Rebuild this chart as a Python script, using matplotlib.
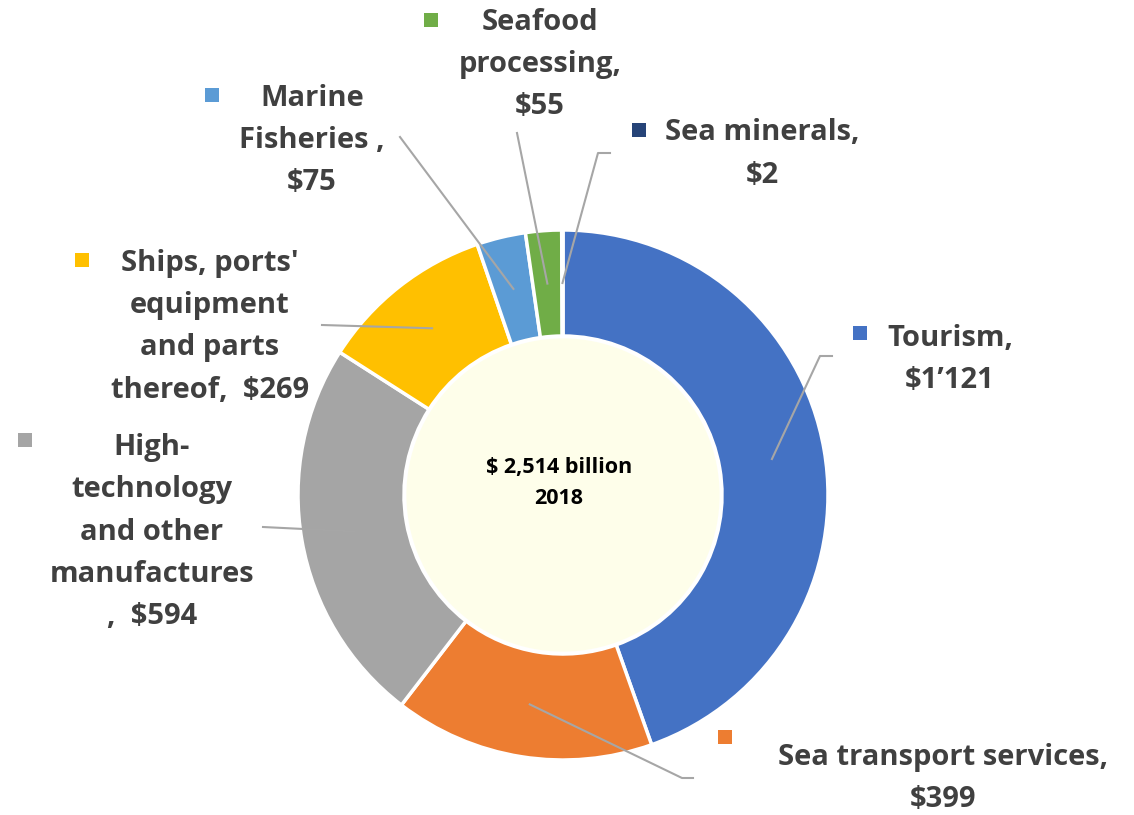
import matplotlib
matplotlib.use('Agg')

import matplotlib.pyplot as plt
import numpy as np
from matplotlib.patches import Circle

# data (billion USD, 2018)
sectors = ['Tourism', 'Sea transport services', 'High-technology and other manufactures',
           "Ships, ports' equipment and parts thereof", 'Marine Fisheries', 'Seafood processing',
           'Sea minerals']
values = [1121, 399, 594, 269, 75, 55, 2]
colors = ['#4472C4', '#ED7D31', '#A5A5A5', '#FFC000', '#5B9BD5', '#70AD47', '#264478']
label_lines = [
    ['Tourism,', '$1\u2019121'],
    ['Sea transport services,', '$399'],
    ['High-', 'technology', 'and other', 'manufactures', ',  $594'],
    ["Ships, ports'", 'equipment', 'and parts', 'thereof,  $269'],
    ['Marine', 'Fisheries ,', '$75'],
    ['Seafood', 'processing,', '$55'],
    ['Sea minerals,', '$2'],
]
center_text = ['$ 2,514 billion', '2018']

W, H = 1134, 815
fig = plt.figure(figsize=(W / 100, H / 100), dpi=100)
ax = fig.add_axes([0, 0, 1, 1])
ax.axis('off')


def Y(y):
    # image pixel row -> data y
    return H - y


cx, cy = 563, Y(495)
R, r_in = 265, 159

wedges, _ = ax.pie(values, colors=colors, startangle=90, counterclock=False,
                   radius=R, center=(cx, cy),
                   wedgeprops=dict(width=R - r_in, edgecolor='white', linewidth=2.5))
ax.set_xlim(0, W)
ax.set_ylim(0, H)
ax.set_aspect('equal')

ax.add_patch(Circle((cx, cy), r_in - 1, facecolor='#FEFEEA', edgecolor='white', lw=2, zorder=3))
for k, line in enumerate(center_text):
    ax.text(559, Y(468 + 30 * k), line, ha='center', va='center', fontsize=15.5,
            fontweight='bold', family='Open Sans', color='black', zorder=4)

# label layout: (text center x, first line y, marker x, marker y, elbow points)
layout = [
    (950, 338, 860, 333, [(820, 356), (832, 356)]),
    (943, 757, 725, 737, [(682, 778), (693, 778)]),
    (152, 447, 25, 440, [(263, 527)]),
    (210, 263, 82, 260, [(322, 325)]),
    (312, 98, 212, 95, [(400, 137)]),
    (540, 22, 431, 20, [(517, 133)]),
    (762, 133, 639, 130, [(598, 153), (610, 153)]),
]

total = sum(values)
cum = np.cumsum([0] + values)
line_gap = 42.5
for i, (tx, ty, mx, my, elbow) in enumerate(layout):
    for k, line in enumerate(label_lines[i]):
        ax.text(tx, Y(ty + k * line_gap), line, ha='center', va='center', fontsize=21,
                fontweight='bold', family='Open Sans', color='#404040')
    ax.scatter([mx], [Y(my)], marker='s', s=110, color=colors[i], linewidths=0, zorder=5)
    # leader line from the middle of the ring at the wedge mid-angle
    mid = (cum[i] + values[i] / 2) / total
    ang = np.deg2rad(90 - 360 * mid)
    rr = 0.8 * R
    px = [cx + rr * np.cos(ang)] + [p[0] for p in elbow]
    py = [cy + rr * np.sin(ang)] + [Y(p[1]) for p in elbow]
    ax.plot(px, py, color='#A6A6A6', lw=1.5, zorder=6)

fig.savefig('out.png', dpi=100)
